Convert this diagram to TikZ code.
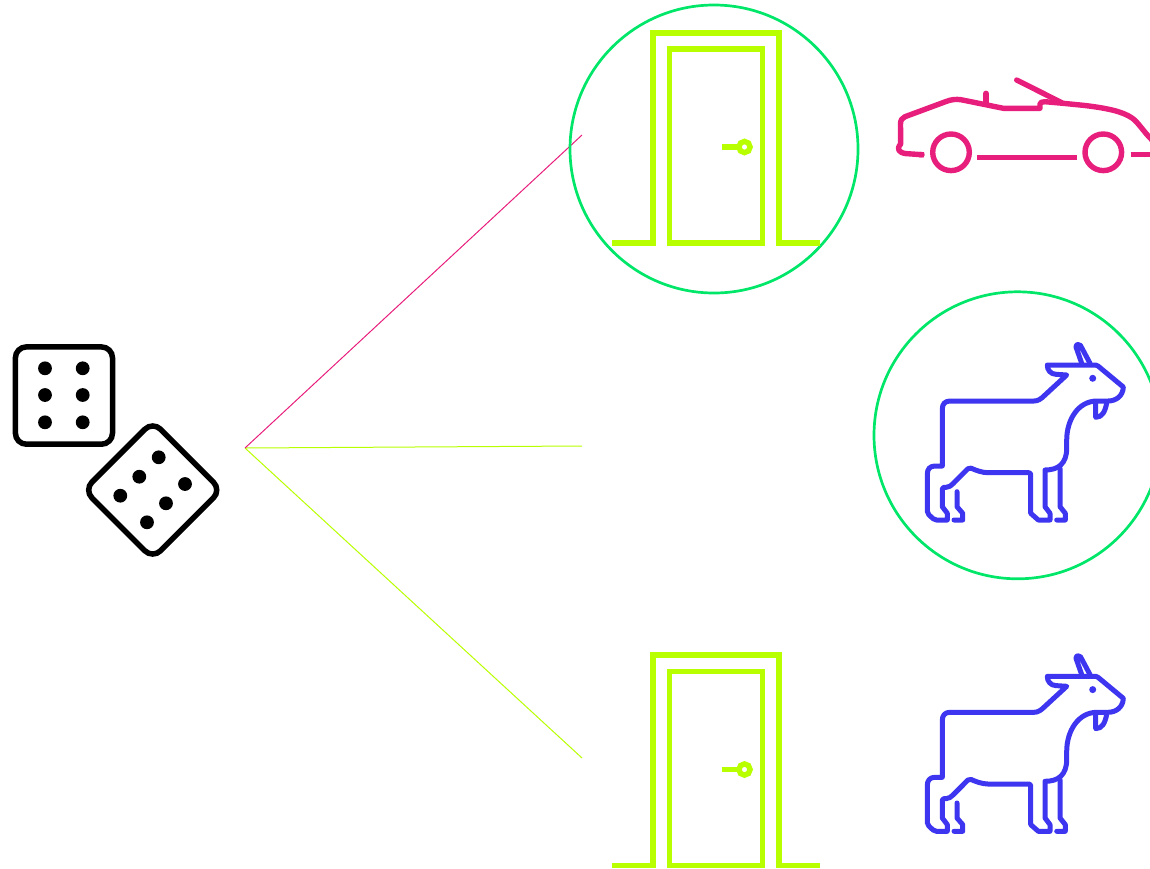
\documentclass[tikz,border=0pt]{standalone}
\definecolor{limec}{RGB}{184,255,0}
\definecolor{pinkc}{RGB}{232,30,124}
\definecolor{bluec}{RGB}{61,53,240}
\definecolor{greenc}{RGB}{0,230,105}
\tikzset{
  doorline/.style={draw=limec,line width=5.6pt,miter limit=10},
  carline/.style={draw=pinkc,line width=5.4pt,line cap=round,line join=round},
  carstraight/.style={draw=pinkc,line width=5.4pt},
  goatline/.style={draw=bluec,line width=5pt,line cap=round,line join=round},
  diceline/.style={draw=black,line width=5.5pt,rounded corners=11pt},
  pip/.style={circle,fill=black,inner sep=0pt,minimum size=13.8pt},
  ring/.style={draw=greenc,line width=2.7pt},
  pinkwire/.style={draw=pinkc,line width=1pt},
  limewire/.style={draw=limec,line width=1pt}
}
\newcommand{\doorpic}{%
  \draw[doorline] (612,242.9) -- (653,242.9) -- (653,32.7) -- (779,32.7) -- (779,242.9) -- (820,242.9);
  \draw[doorline] (669.5,242.9) -- (669.5,49) -- (762.5,49) -- (762.5,242.9) -- cycle;
  \draw[doorline] (721.5,147) -- (738,147);
  \draw[draw=limec,line width=5.4pt] (744.5,147) circle[radius=5.6pt];
}
\newcommand{\goatpic}{%
  \draw[goatline] (1066.7,375) -- (1045,395) .. controls (1041,399) and (1038,401) .. (1034,401) -- (950,401) .. controls (945,401) and (942.3,404) .. (942.3,409) -- (942.3,466) -- (935,466) .. controls (930,466) and (927.3,469) .. (927.3,474) [rounded corners=2pt] -- (927.3,513.3) -- (934.5,520) [sharp corners] -- (947.3,520) -- (947.3,513.3) -- (942.3,506.7) [rounded corners=2pt] -- (942.3,487.3) -- (948.3,487.3) -- (951.7,485) -- (969.3,467.3) .. controls (975,470) and (982,472.7) .. (990,472.7) -- (1030.7,472.7) [sharp corners] -- (1030.7,513.3) -- (1038.3,520) -- (1050,520) -- (1050,513.3) -- (1045,506.7) -- (1045,470) .. controls (1058,470) and (1066.7,464) .. (1066.7,448) -- (1066.7,440) .. controls (1066.7,420) and (1078,401) .. (1097,401) -- (1108,401) .. controls (1116,401) and (1123,396) .. (1123.3,387) -- (1098,366) .. controls (1097,365) and (1095,365) .. (1093,365) -- (1047.3,365) .. controls (1047,370) and (1051,374.3) .. (1056,374.3) -- cycle;
  \draw[goatline] (1081.7,363.3) -- (1076,347) .. controls (1076,344) and (1079,343.5) .. (1080.5,345.5) -- (1090,363.3);
  \fill[bluec] (1092.7,378.3) circle[radius=3.5pt];
  \draw[goatline] (1095.7,403) -- (1095.7,417.3) .. controls (1102,417.3) and (1105,412) .. (1106.7,403);
  \draw[goatline] (957,491.7) -- (957,506.7) -- (962.7,513.3) -- (962.7,520) -- (954,520);
  \draw[goatline] (1060,468.3) -- (1060,506.7) -- (1065.3,513.3) -- (1065.3,520) -- (1056.7,520);
}
\begin{document}
\begin{tikzpicture}[x=1pt,y=-1pt]
\useasboundingbox (0,0) rectangle (1150,868);
\clip (0,0) rectangle (1150,868);
% wires
\coordinate (hub) at (245,448);
\coordinate (endcar) at (582,135);
\coordinate (endmid) at (582,446);
\coordinate (endlow) at (582,758);
\draw[limewire] (hub) -- (endmid);
\draw[limewire] (hub) -- (endlow);
\draw[pinkwire] (hub) -- (endcar);
% circles
\draw[ring] (714,149) circle[radius=144pt];
\draw[ring] (1017.5,435.3) circle[radius=143.5pt];
% doors
\doorpic
\begin{scope}[yshift=-622.5pt]\doorpic\end{scope}
% goats
\goatpic
\begin{scope}[yshift=-311.3pt]\goatpic\end{scope}
% car
\draw[carline] (922,154.7) -- (906,153.6) .. controls (899,152.8) and (896,149) .. (900.7,144) -- (900.5,124) .. controls (900.5,120) and (902,118) .. (905,116.7) -- (946,101.5) .. controls (951,99.5) and (956,99) .. (961,99.7) -- (1003.3,108.3) -- (1040,108.3) -- (1040,104) .. controls (1040,102.5) and (1042,101.7) .. (1045,101.7) -- (1063,103.3) -- (1085,105.5) .. controls (1105,108) and (1122,111) .. (1132,118) .. controls (1138,122) and (1143,131) .. (1152,140);
\draw[carstraight] (919,154.6) -- (924,154.8);
\draw[carline] (986,93.3) -- (986,102.7);
\draw[carline] (1016.7,80) -- (1061.7,102.7);
\draw[draw=pinkc,line width=5.4pt] (951,152.3) circle[radius=18.3pt];
\draw[draw=pinkc,line width=5.4pt] (1103.3,152.3) circle[radius=18.3pt];
\draw[carstraight] (977.3,157.3) -- (1077.3,157.3);
\draw[carstraight] (1130.7,154.3) -- (1150,154.3);
% dice
\draw[diceline] (15.4,346.9) rectangle (112.5,444.2);
\foreach \px in {45,82.7} \foreach \py in {368.3,395,422.3} \node[pip] at (\px,\py) {};
\draw[diceline] [rotate around={45:(152.7,490)}] (104.2,441.5) rectangle (201.2,538.5);
\foreach \px/\py in {158.7/457.3,139.3/476.7,120.3/495.7,185/484,166/503.3,147/522.3} \node[pip] at (\px,\py) {};
\end{tikzpicture}
\end{document}
